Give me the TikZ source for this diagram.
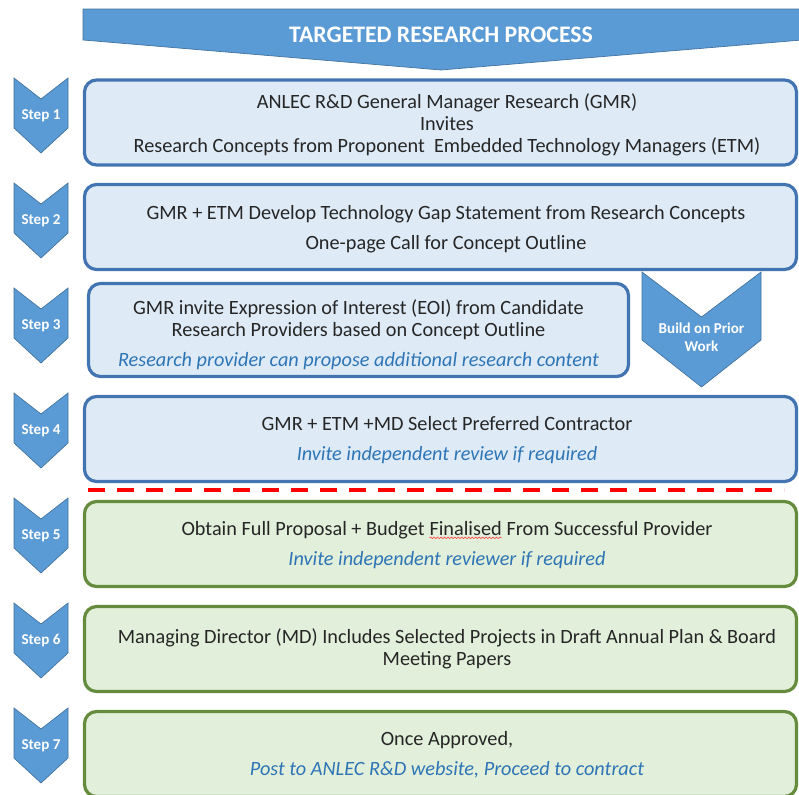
\documentclass[tikz,border=0pt]{standalone}
\usepackage{fontspec}
\setmainfont{Carlito}
\usetikzlibrary{positioning,decorations.pathmorphing}

\definecolor{chevblue}{RGB}{91,155,213}
\definecolor{chevline}{RGB}{65,113,156}
\definecolor{boxblue}{RGB}{222,235,247}
\definecolor{lineblue}{RGB}{66,116,178}
\definecolor{boxgreen}{RGB}{226,239,218}
\definecolor{linegreen}{RGB}{100,140,60}
\definecolor{notecolor}{RGB}{46,117,182}

% word with a spell-check squiggle under it
\newcommand\squiggly[1]{\tikz[baseline=(w.base),x=1pt,y=1pt]{%
  \node[inner sep=0pt,outer sep=0pt,font=] (w) {#1};
  \draw[red!80,line width=0.4pt,decorate,
        decoration={snake,amplitude=0.6pt,segment length=2.6pt}]
    ([yshift=-1.8pt]w.base west) -- ([yshift=-1.8pt]w.base east);}}

\begin{document}
\begin{tikzpicture}[x=0.75pt,y=-0.75pt,
    stage/.style={draw=lineblue,fill=boxblue,line width=2.4pt,rounded corners=9pt,
                  minimum width=534pt,minimum height=63.75pt},
    late stage/.style={stage,draw=linegreen,fill=boxgreen},
    lines/.style={align=center,text=black!85,font=\fontsize{15.2}{16.5}\selectfont},
    arrowshape/.style={fill=chevblue,draw=chevline,line width=0.5pt},
    steplabel/.style={text=white,font=\fontsize{11.3}{13}\selectfont\bfseries},
    stepmark/.pic={\path[arrowshape] (-27,0) -- (0,21) -- (27,0) -- (27,50)
                   -- (0,75) -- (-27,50) -- cycle;}]

  \useasboundingbox (0,0) rectangle (799,794);

  % banner
  \path[arrowshape] (83,9) -- (802,9) -- (802,40) -- (441,70) -- (83,40) -- cycle;
  \node[text=white,font=\fontsize{17.8}{19}\selectfont\bfseries] (title) at (441,35)
    {TARGETED RESEARCH PROCESS};

  % step markers
  \pic at (41,78) {stepmark};
  \pic at (41,183) {stepmark};
  \pic at (41,288) {stepmark};
  \pic at (41,393) {stepmark};
  \pic at (41,498) {stepmark};
  \pic at (41,603) {stepmark};
  \pic at (41,708) {stepmark};
  \node[steplabel] (t1) at (41,116) {Step 1};
  \node[steplabel] (t2) at (41,221) {Step 2};
  \node[steplabel] (t3) at (41,326) {Step 3};
  \node[steplabel] (t4) at (41,431) {Step 4};
  \node[steplabel] (t5) at (41,536) {Step 5};
  \node[steplabel] (t6) at (41,641) {Step 6};
  \node[steplabel] (t7) at (41,746) {Step 7};

  % the stage boxes
  \node[stage] (b1) at (440.5,122.5) {};
  \node[stage] (b2) at (440.5,227) {};
  \node[stage,minimum width=405pt,minimum height=69.75pt] (b3) at (358.5,330) {};
  \node[stage] (b4) at (440.5,439) {};
  \node[late stage] (b5) at (440.5,544) {};
  \node[late stage] (b6) at (440.5,649) {};
  \node[late stage] (b7) at (440.5,754) {};

  % their texts, set a little right of centre
  \node[lines] (s1) at (447,125) {ANLEC R\&D General Manager Research (GMR)\\
    Invites\\ Research Concepts from Proponent\ \ Embedded Technology Managers (ETM)};
  \node[lines] (s2) at (446,229) {GMR + ETM Develop Technology Gap Statement from Research Concepts\\[6pt]
    One-page Call for Concept Outline};
  \node[lines] (s3) at (358.5,335) {GMR invite Expression of Interest (EOI) from Candidate\\
     Research Providers based on Concept Outline\\[6pt]
     {\itshape\color{notecolor}Research provider can propose additional research content}};
  \node[lines] (s4) at (447,440) {GMR + ETM +MD Select Preferred Contractor\\[6pt]
    {\itshape\color{notecolor}Invite independent review if required}};
  \node[lines] (s5) at (447,545) {Obtain Full Proposal + Budget \squiggly{Finalised} From Successful Provider\\[6pt]
    {\itshape\color{notecolor}Invite independent reviewer if required}};
  \node[lines] (s6) at (447,649) {Managing Director (MD) Includes Selected Projects in Draft Annual Plan \& Board\\
    Meeting Papers};
  \node[lines] (s7) at (447,755) {Once Approved,\\[6pt]
    {\itshape\color{notecolor}Post to ANLEC R\&D website, Proceed to contract}};

  % prior work marker beside step 3
  \path[arrowshape] (642,272) -- (701.5,317) -- (761,272) -- (761,340)
    -- (701.5,387) -- (642,340) -- cycle;
  \node[steplabel,align=center,font=\fontsize{11.3}{13.5}\selectfont\bfseries] (prior)
    at (701.5,337) {Build on Prior\\Work};

  % cut between selection and proposal
  \coordinate (cutA) at (88,490);
  \coordinate (cutB) at (784,490);
  \draw[red,line width=3pt,dash pattern=on 12.75pt off 9pt] (cutA) -- (cutB);
\end{tikzpicture}
\end{document}
